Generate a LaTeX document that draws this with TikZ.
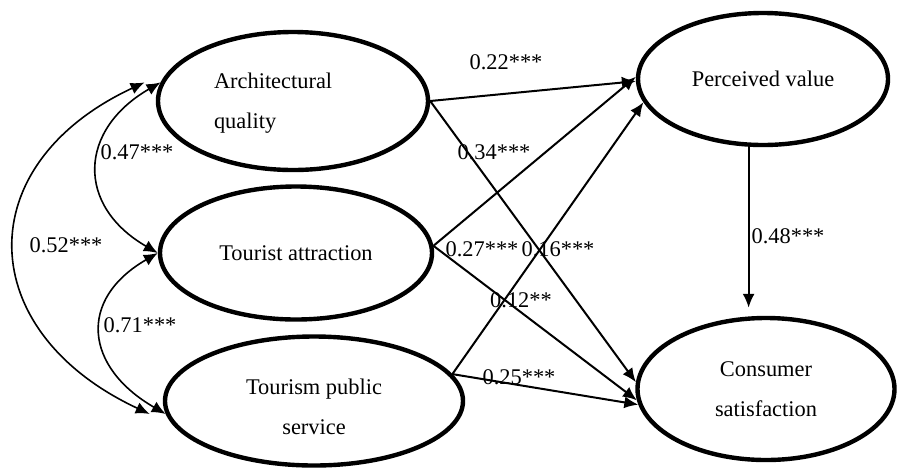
\documentclass[tikz,border=0pt]{standalone}
\usepackage{fontspec}
\setmainfont{Liberation Serif}
\usetikzlibrary{shapes,arrows.meta}
\tikzset{
  latent/.style={draw, ellipse, line width=2.2pt, inner sep=0pt, align=center},
  path/.style={->, line width=1pt},
  cov/.style={<->, line width=0.8pt},
}

\begin{document}
\begin{tikzpicture}[>={Latex[length=7pt,width=6pt]}, x=0.5pt, y=-0.5pt, font=\fontsize{11.2}{20}\selectfont]
  \useasboundingbox (0,0) rectangle (898,467);
  \node [latent, minimum width=135pt, minimum height=69pt, align=left, text width=79pt](aq) at (293,101){\rule{0pt}{10pt}Architectural\\quality};
  \node [latent, minimum width=136pt, minimum height=66.5pt](ta) at (296,253){Tourist attraction};
  \node [latent, minimum width=149pt, minimum height=64.5pt](tps) at (314,401){\rule{0pt}{14pt}Tourism public\\service};
  \node [latent, minimum width=125pt, minimum height=66pt](pv) at (763,79){Perceived value};
  \node [latent, minimum width=128.5pt, minimum height=71pt](cs) at (766,389){Consumer\\satisfaction};
  % covariances
  \draw [cov] (aq.172) to[out=210, in=150, looseness=1.42] (ta.180);
  \draw [cov] (ta.180) to[out=210, in=150, looseness=1.48] (tps.185);
  \draw [cov] ([xshift=-8pt]aq.172) to[out=205, in=155, looseness=1.5] ([xshift=-8pt]tps.185);
  \node (c47) at (137,152) {0.47***};
  \node (c52) at (66,245) {0.52***};
  \node (c71) at (140,325) {0.71***};
  % paths
  \draw [path] (aq.east) -- (pv.181);
  \draw [path] (aq.east) -- (cs.177);
  \draw [path] (ta.3) -- (pv.179);
  \draw [path] (ta.3) -- (cs.185);
  \draw [path] (tps.11) -- (pv.191);
  \draw [path] (tps.11) -- (cs.187);
  \draw [path, shorten >=4pt] (pv.258) -- (pv.258 |- cs.north);
  \node (p22) at (506,62) {0.22***};
  \node (p34) at (494,152) {0.34***};
  \node (p27) at (482,249) {0.27***};
  \node (p16) at (558,249) {0.16***};
  \node (p12) at (521,300) {0.12**};
  \node (p25) at (519,377) {0.25***};
  \node (p48) at (788,236) {0.48***};
\end{tikzpicture}
\end{document}
